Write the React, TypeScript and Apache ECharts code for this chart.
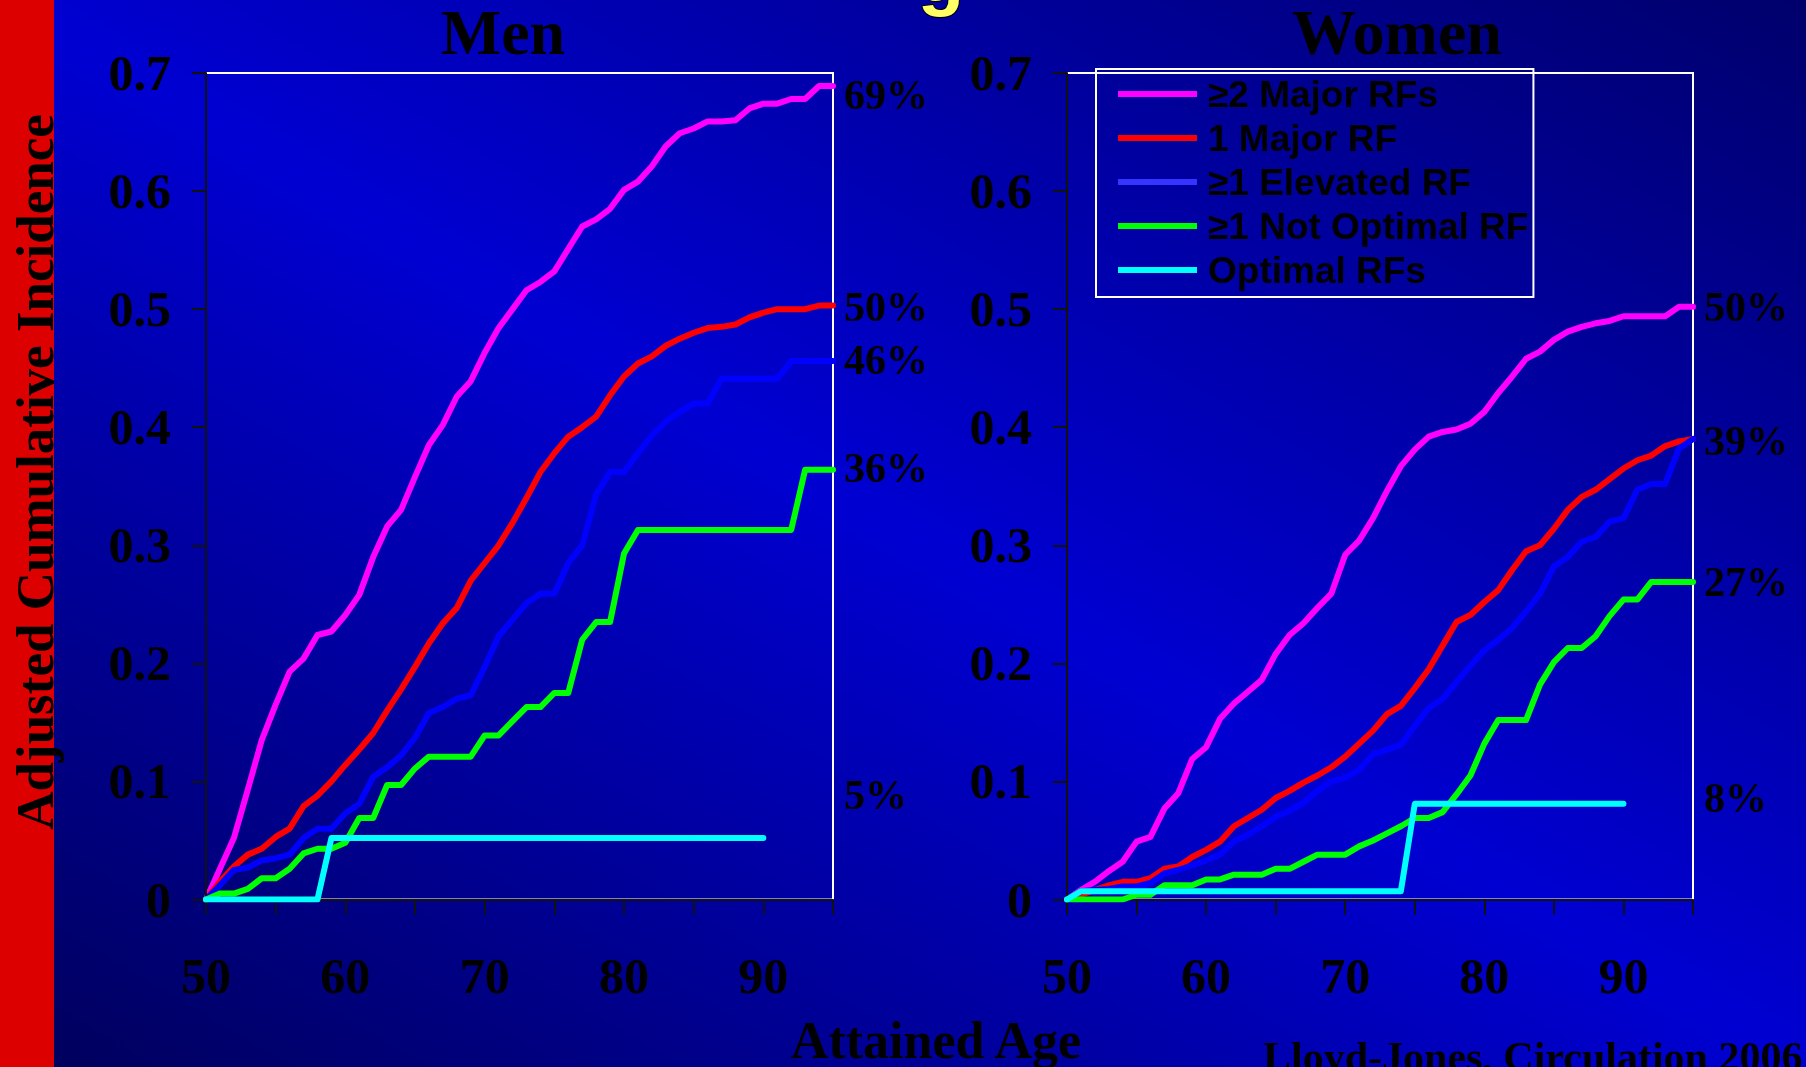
import React, { useEffect, useRef } from "react";
import * as echarts from "echarts";

// Attained age (years)
const ages = [50, 51, 52, 53, 54, 55, 56, 57, 58, 59, 60, 61, 62, 63, 64, 65, 66, 67, 68, 69, 70, 71, 72, 73, 74, 75, 76, 77, 78, 79, 80, 81, 82, 83, 84, 85, 86, 87, 88, 89, 90, 91, 92, 93, 94, 95];

const seriesNames = ["≥2 Major RFs", "1 Major RF", "≥1 Elevated RF", "≥1 Not Optimal RF", "Optimal RFs"];
const seriesColors = ["#ff00ff", "#ff0000", "#0000ff", "#00ff00", "#00ffff"];
const legendColors = ["#ff00ff", "#ff0000", "#3535ff", "#00ff00", "#00ffff"];

// Men
const menMajor2 = [0, 0.026, 0.052, 0.093, 0.135, 0.165, 0.193, 0.204, 0.224, 0.227, 0.241, 0.258, 0.29, 0.316, 0.33, 0.358, 0.385, 0.402, 0.426, 0.439, 0.463, 0.484, 0.5, 0.516, 0.523, 0.532, 0.551, 0.57, 0.576, 0.585, 0.601, 0.608, 0.621, 0.638, 0.649, 0.653, 0.659, 0.659, 0.66, 0.67, 0.674, 0.674, 0.678, 0.678, 0.689, 0.689];
const menMajor1 = [0, 0.015, 0.028, 0.038, 0.043, 0.053, 0.06, 0.079, 0.088, 0.1, 0.114, 0.127, 0.141, 0.16, 0.178, 0.197, 0.217, 0.234, 0.247, 0.27, 0.285, 0.3, 0.319, 0.34, 0.362, 0.378, 0.392, 0.4, 0.409, 0.427, 0.443, 0.454, 0.46, 0.469, 0.475, 0.48, 0.484, 0.485, 0.487, 0.493, 0.497, 0.5, 0.5, 0.5, 0.503, 0.503];
const menElevated = [0, 0.012, 0.025, 0.027, 0.033, 0.035, 0.038, 0.052, 0.06, 0.06, 0.073, 0.081, 0.104, 0.112, 0.122, 0.137, 0.158, 0.163, 0.17, 0.173, 0.197, 0.223, 0.237, 0.251, 0.259, 0.259, 0.285, 0.3, 0.343, 0.362, 0.362, 0.378, 0.393, 0.405, 0.413, 0.42, 0.42, 0.441, 0.441, 0.441, 0.441, 0.441, 0.456, 0.456, 0.456, 0.456];
const menNotOptimal = [0, 0.005, 0.005, 0.009, 0.018, 0.018, 0.026, 0.039, 0.043, 0.043, 0.048, 0.069, 0.069, 0.097, 0.097, 0.111, 0.121, 0.121, 0.121, 0.121, 0.139, 0.139, 0.151, 0.163, 0.163, 0.175, 0.175, 0.22, 0.235, 0.235, 0.293, 0.313, 0.313, 0.313, 0.313, 0.313, 0.313, 0.313, 0.313, 0.313, 0.313, 0.313, 0.313, 0.364, 0.364, 0.364];
const menOptimal = [0, 0, 0, 0, 0, 0, 0, 0, 0, 0.052, 0.052, 0.052, 0.052, 0.052, 0.052, 0.052, 0.052, 0.052, 0.052, 0.052, 0.052, 0.052, 0.052, 0.052, 0.052, 0.052, 0.052, 0.052, 0.052, 0.052, 0.052, 0.052, 0.052, 0.052, 0.052, 0.052, 0.052, 0.052, 0.052, 0.052, 0.052];

// Women
const womenMajor2 = [0, 0.008, 0.015, 0.024, 0.032, 0.049, 0.053, 0.077, 0.09, 0.119, 0.129, 0.153, 0.166, 0.176, 0.186, 0.208, 0.224, 0.234, 0.247, 0.259, 0.292, 0.304, 0.323, 0.346, 0.367, 0.381, 0.392, 0.396, 0.398, 0.403, 0.413, 0.429, 0.443, 0.458, 0.464, 0.474, 0.481, 0.485, 0.488, 0.49, 0.494, 0.494, 0.494, 0.494, 0.502, 0.502];
const womenMajor1 = [0, 0.004, 0.008, 0.012, 0.015, 0.015, 0.018, 0.026, 0.028, 0.036, 0.042, 0.049, 0.062, 0.069, 0.076, 0.086, 0.092, 0.099, 0.105, 0.112, 0.121, 0.132, 0.143, 0.157, 0.164, 0.179, 0.195, 0.215, 0.235, 0.241, 0.252, 0.262, 0.279, 0.295, 0.3, 0.314, 0.33, 0.341, 0.347, 0.356, 0.365, 0.372, 0.376, 0.384, 0.388, 0.39];
const womenElevated = [0, 0.007, 0.008, 0.009, 0.011, 0.011, 0.014, 0.022, 0.025, 0.029, 0.033, 0.038, 0.049, 0.055, 0.062, 0.07, 0.075, 0.082, 0.092, 0.1, 0.103, 0.11, 0.123, 0.127, 0.131, 0.147, 0.162, 0.17, 0.184, 0.198, 0.211, 0.22, 0.23, 0.244, 0.259, 0.282, 0.29, 0.303, 0.307, 0.32, 0.323, 0.347, 0.352, 0.352, 0.382, 0.39];
const womenNotOptimal = [0, 0, 0, 0, 0, 0.004, 0.004, 0.012, 0.012, 0.012, 0.017, 0.017, 0.021, 0.021, 0.021, 0.026, 0.026, 0.032, 0.038, 0.038, 0.038, 0.045, 0.05, 0.056, 0.062, 0.069, 0.069, 0.074, 0.089, 0.105, 0.132, 0.152, 0.152, 0.152, 0.182, 0.201, 0.213, 0.213, 0.223, 0.24, 0.254, 0.254, 0.269, 0.269, 0.269, 0.269];
const womenOptimal = [0, 0.007, 0.007, 0.007, 0.007, 0.007, 0.007, 0.007, 0.007, 0.007, 0.007, 0.007, 0.007, 0.007, 0.007, 0.007, 0.007, 0.007, 0.007, 0.007, 0.007, 0.007, 0.007, 0.007, 0.007, 0.081, 0.081, 0.081, 0.081, 0.081, 0.081, 0.081, 0.081, 0.081, 0.081, 0.081, 0.081, 0.081, 0.081, 0.081, 0.081];

// End-of-curve percentage annotations (null = no label) and their vertical nudge
const menPctLabels = ["69%", "50%", "46%", "36%", "5%"];
const menPctNudge = [9, 1, -1, -2, -43];
const womenPctLabels = ["50%", "39%", null, "27%", "8%"];
const womenPctNudge = [0, 2, 0, 0, -6];

const yTicks = [0, 0.1, 0.2, 0.3, 0.4, 0.5, 0.6, 0.7];
const X_MIN = 50;
const X_MAX = 95;

const SERIF = "Liberation Serif";
const SANS = "Liberation Sans";

function buildSeries(
  valuesList: number[][],
  gridIndex: number,
  pctLabels: (string | null)[],
  nudges: number[]
) {
  return valuesList.map((vals, i) => {
    const data = vals.map((v, j) => [ages[j], v]);
    const s: any = {
      type: "line",
      name: seriesNames[i],
      xAxisIndex: gridIndex,
      yAxisIndex: gridIndex,
      data,
      showSymbol: false,
      symbol: "none",
      lineStyle: { color: seriesColors[i], width: 6, join: "round", cap: "round" },
      itemStyle: { color: seriesColors[i] },
      z: 3 + i,
      silent: true,
    };
    const lbl = pctLabels[i];
    if (lbl) {
      s.markPoint = {
        silent: true,
        symbol: "circle",
        symbolSize: 0,
        itemStyle: { color: "transparent" },
        label: {
          show: true,
          position: "right",
          distance: 11,
          formatter: lbl,
          color: "#000",
          fontFamily: SERIF,
          fontWeight: "bold",
          fontSize: 42,
          offset: [0, nudges[i]],
        },
        data: [{ coord: [X_MAX, vals[vals.length - 1]] }],
      };
    }
    return s;
  });
}

function xAxisFor(gridIndex: number) {
  return {
    type: "value",
    gridIndex,
    min: X_MIN,
    max: X_MAX,
    interval: 5,
    z: 6,
    axisLine: { show: true, onZero: false, lineStyle: { color: "#111", width: 2 } },
    axisTick: { show: true, inside: false, length: 15, lineStyle: { color: "#111", width: 2 } },
    splitLine: { show: false },
    axisLabel: {
      show: true,
      margin: 76,
      verticalAlign: "middle",
      formatter: (v: number) => (v % 10 === 0 && v < X_MAX ? String(v) : ""),
      color: "#000",
      fontFamily: SERIF,
      fontWeight: "bold",
      fontSize: 50,
      showMaxLabel: true,
      showMinLabel: true,
    },
  };
}

function yAxisFor(gridIndex: number) {
  return {
    type: "value",
    gridIndex,
    min: yTicks[0],
    max: yTicks[yTicks.length - 1],
    interval: 0.1,
    z: 6,
    axisLine: { show: true, onZero: false, lineStyle: { color: "#111", width: 2 } },
    axisTick: { show: true, inside: false, length: 14, lineStyle: { color: "#111", width: 2 } },
    splitLine: { show: false },
    axisLabel: {
      show: true,
      margin: 35,
      formatter: (v: number) => (Math.abs(v) < 1e-9 ? "0" : v.toFixed(1)),
      color: "#000",
      fontFamily: SERIF,
      fontWeight: "bold",
      fontSize: 50,
    },
  };
}

export default function App() {
  const ref = useRef<HTMLDivElement>(null);

  useEffect(() => {
    if (!ref.current) return;
    const chart = echarts.init(ref.current, undefined, { renderer: "svg" });

    const option: any = {
      animation: false,
      backgroundColor: "transparent",
      graphic: {
        elements: [
          {
            type: "rect",
            z: -10,
            silent: true,
            shape: { x: 0, y: 0, width: 1806, height: 1067 },
            style: {
              fill: {
                type: "linear",
                x: 0,
                y: 1,
                x2: 1,
                y2: 0,
                colorStops: [
                  { offset: 0, color: "#00005a" },
                  { offset: 0.5, color: "#0000d2" },
                  { offset: 1, color: "#00006c" },
                ],
              },
            },
          },
          {
            type: "rect",
            z: -9,
            silent: true,
            shape: { x: 0, y: 0, width: 54, height: 1067 },
            style: { fill: "#dc0000" },
          },
          {
            type: "text",
            z: 10,
            silent: true,
            x: 941,
            y: -26,
            style: {
              text: "g",
              fill: "#ffff66",
              fontFamily: SANS,
              fontWeight: "bold",
              fontSize: 76,
              align: "center",
              verticalAlign: "middle",
              stroke: "#000",
              lineWidth: 2,
            },
          },
          {
            type: "text",
            z: 10,
            silent: true,
            x: 503,
            y: 32,
            style: {
              text: "Men",
              fill: "#000",
              fontFamily: SERIF,
              fontWeight: "bold",
              fontSize: 64,
              align: "center",
              verticalAlign: "middle",
            },
          },
          {
            type: "text",
            z: 10,
            silent: true,
            x: 1397,
            y: 32,
            style: {
              text: "Women",
              fill: "#000",
              fontFamily: SERIF,
              fontWeight: "bold",
              fontSize: 64,
              align: "center",
              verticalAlign: "middle",
            },
          },
          {
            type: "text",
            z: 10,
            silent: true,
            x: 35,
            y: 472,
            rotation: Math.PI / 2,
            style: {
              text: "Adjusted Cumulative Incidence",
              fill: "#000",
              fontFamily: SERIF,
              fontWeight: "bold",
              fontSize: 53,
              align: "center",
              verticalAlign: "middle",
            },
          },
          {
            type: "text",
            z: 10,
            silent: true,
            x: 936,
            y: 1040,
            style: {
              text: "Attained Age",
              fill: "#000",
              fontFamily: SERIF,
              fontWeight: "bold",
              fontSize: 52,
              align: "center",
              verticalAlign: "middle",
            },
          },
          {
            type: "text",
            z: 10,
            silent: true,
            x: 1263,
            y: 1057,
            style: {
              text: "Lloyd-Jones, Circulation 2006",
              fill: "#000",
              fontFamily: SERIF,
              fontWeight: "bold",
              fontSize: 42,
              align: "left",
              verticalAlign: "middle",
            },
          },
        ],
      },
      grid: [
        {
          left: 206,
          top: 73,
          width: 627,
          height: 826.5,
          show: true,
          backgroundColor: "transparent",
          borderColor: "#ffffff",
          borderWidth: 2,
          containLabel: false,
        },
        {
          left: 1067,
          top: 73,
          width: 626,
          height: 826.5,
          show: true,
          backgroundColor: "transparent",
          borderColor: "#ffffff",
          borderWidth: 2,
          containLabel: false,
        },
      ],
      xAxis: [xAxisFor(0), xAxisFor(1)],
      yAxis: [yAxisFor(0), yAxisFor(1)],
      legend: {
        show: true,
        orient: "vertical",
        left: 1096,
        top: 69,
        padding: [3, 5, 5, 22],
        itemGap: 0,
        itemWidth: 79,
        itemHeight: 6,
        icon: "rect",
        selectedMode: false,
        borderColor: "#ffffff",
        borderWidth: 2,
        backgroundColor: "transparent",
        z: 20,
        textStyle: {
          color: "#000",
          fontFamily: SANS,
          fontWeight: "bold",
          fontSize: 37,
          lineHeight: 44,
          padding: [0, 0, 0, 6],
        },
        data: seriesNames.map((n, i) => ({ name: n, itemStyle: { color: legendColors[i] } })),
      },
      series: [
        ...buildSeries([menMajor2, menMajor1, menElevated, menNotOptimal, menOptimal], 0, menPctLabels, menPctNudge),
        ...buildSeries(
          [womenMajor2, womenMajor1, womenElevated, womenNotOptimal, womenOptimal],
          1,
          womenPctLabels,
          womenPctNudge
        ),
      ],
    };

    chart.setOption(option);
    return () => {
      chart.dispose();
    };
  }, []);

  return (
    <div
      ref={ref}
      style={{ position: "fixed", left: 0, top: 0, width: 1806, height: 1067, overflow: "hidden" }}
    />
  );
}
